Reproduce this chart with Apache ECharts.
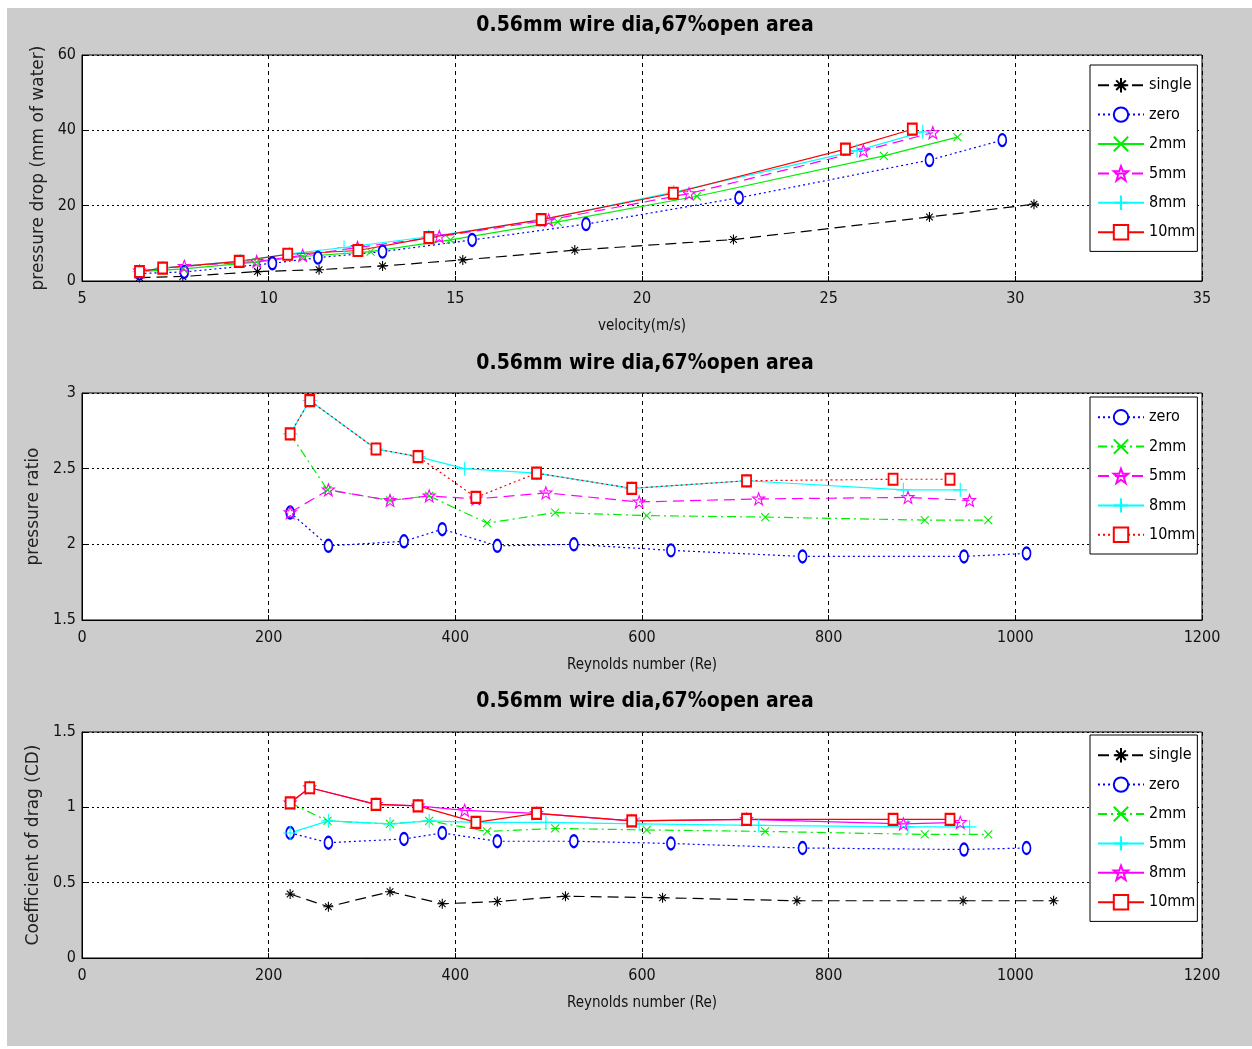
<!DOCTYPE html>
<html>
<head>
    <meta charset="UTF-8">
    <style type="text/css">
        body { margin: 0; background: #fff; }
        #chart { position: absolute; left: 7px; top: 8px; width: 1245px; height: 1038px; }
    </style>
</head>
<body>
    <div id="chart"></div>
    <script src="https://cdn.jsdelivr.net/npm/echarts@6/dist/echarts.min.js"></script>
    <script type="text/javascript">
        'use strict';
        var titleText = '0.56mm wire dia,67%open area';

        // top panel: pressure drop vs velocity
        var velSingle = [6.54, 7.7, 9.7, 11.35, 13.05, 15.2, 18.2, 22.45, 27.7, 30.5];
        var dpSingle = [0.9, 1.2, 2.5, 3.0, 4.0, 5.6, 8.2, 11.0, 17.0, 20.4];
        var velZero = [6.54, 7.74, 10.1, 11.32, 13.05, 15.45, 18.5, 22.6, 27.7, 29.65];
        var dpZero = [2.0, 2.4, 4.7, 6.2, 7.8, 10.9, 15.1, 22.1, 32.1, 37.4];
        var vel2mm = [6.54, 7.71, 9.68, 10.91, 12.73, 14.87, 17.74, 21.47, 26.48, 28.45];
        var dp2mm = [2.5, 3.2, 5.0, 6.5, 7.8, 10.9, 15.7, 22.5, 33.2, 38.2];
        var vel5mm = [6.54, 7.74, 9.68, 10.91, 12.38, 14.57, 17.5, 21.26, 25.93, 27.79];
        var dp5mm = [2.7, 3.9, 5.2, 6.8, 8.9, 11.8, 16.2, 23.2, 34.6, 39.4];
        var vel8mm = [6.54, 7.16, 9.24, 10.56, 12.02, 14.28, 17.27, 20.85, 25.76, 27.52];
        var dp8mm = [2.5, 3.5, 5.3, 7.2, 8.9, 11.75, 16.2, 23.6, 34.6, 39.6];
        var vel10mm = [6.54, 7.16, 9.21, 10.51, 12.39, 14.29, 17.3, 20.84, 25.45, 27.24];
        var dp10mm = [2.5, 3.4, 5.2, 7.1, 8.1, 11.5, 16.3, 23.3, 35.0, 40.3];

        // Reynolds numbers
        var reSingle = [223, 264, 330, 386, 445, 518, 622, 766, 944, 1041];
        var reZero = [223, 264, 345, 386, 445, 527, 631, 772, 945, 1012];
        var re2mm = [223, 263, 330, 372, 434, 507, 605, 732, 903, 971];
        var re5mm = [223, 264, 330, 372, 422, 497, 597, 725, 885, 951];
        var re8mm = [223, 244, 315, 360, 410, 487, 589, 712, 880, 941];
        var re10mm = [223, 244, 315, 360, 422, 487, 589, 712, 869, 930];

        // middle panel: pressure ratio
        var prZero = [2.21, 1.99, 2.02, 2.10, 1.99, 2.0, 1.96, 1.92, 1.92, 1.94];
        var pr2mm = [2.73, 2.36, 2.29, 2.32, 2.14, 2.21, 2.19, 2.18, 2.16, 2.16];
        var pr5mm = [2.21, 2.36, 2.29, 2.32, 2.30, 2.34, 2.28, 2.30, 2.31, 2.29];
        var pr8mm = [2.73, 2.95, 2.63, 2.58, 2.50, 2.47, 2.37, 2.42, 2.36, 2.36];
        var pr10mm = [2.73, 2.95, 2.63, 2.58, 2.31, 2.47, 2.37, 2.42, 2.43, 2.43];

        // bottom panel: drag coefficient
        var cdSingle = [0.425, 0.34, 0.44, 0.36, 0.375, 0.41, 0.40, 0.38, 0.38, 0.38];
        var cdZero = [0.83, 0.765, 0.79, 0.83, 0.775, 0.775, 0.76, 0.73, 0.72, 0.73];
        var cd2mm = [1.03, 0.91, 0.89, 0.91, 0.84, 0.86, 0.85, 0.84, 0.82, 0.82];
        var cd5mm = [0.83, 0.91, 0.89, 0.91, 0.90, 0.90, 0.89, 0.88, 0.87, 0.87];
        var cd8mm = [1.03, 1.13, 1.02, 1.01, 0.98, 0.96, 0.91, 0.92, 0.89, 0.90];
        var cd10mm = [1.03, 1.13, 1.02, 1.01, 0.90, 0.96, 0.91, 0.92, 0.92, 0.92];

        var narrow = '"DejaVu Sans Condensed", "Liberation Sans Narrow", "Liberation Sans", sans-serif';
        var plain = '"DejaVu Sans", "Liberation Sans", sans-serif';

        var sym = {
            star: 'path://M0,-6L0,6M-6,0L6,0M-4,-4L4,4M-4,4L4,-4',
            plus: 'path://M0,-7L0,7M-7,0L7,0',
            cross: 'path://M-4,-4L4,4M-4,4L4,-4',
            penta: 'path://M0,-6L1.5,-2L6,-2L2.4,1L3.8,5.5L0,2.8L-3.8,5.5L-2.4,1L-6,-2L-1.5,-2Z'
        };
        var dash = { solid: 'solid', dashed: [11, 6], dotted: [2, 3], dashdot: [9, 4, 2, 4] };

        function pairs(xs, ys) {
            return xs.map(function (x, i) { return [x, ys[i]]; });
        }

        function line(panel, name, color, type, symbol, size, xs, ys) {
            var open = symbol.indexOf('path://') === 0;
            return {
                type: 'line',
                name: panel + ':' + name,
                xAxisIndex: panel, yAxisIndex: panel,
                data: pairs(xs, ys),
                symbol: symbol,
                symbolSize: size,
                showAllSymbol: true,
                animation: false,
                lineStyle: { color: color, width: 1.2, type: dash[type] },
                itemStyle: open
                    ? { color: 'rgba(0,0,0,0)', borderColor: color, borderWidth: 1.1 }
                    : { color: color, borderColor: color, borderWidth: 1.1 }
            };
        }

        function grid(top, h) {
            return {
                left: 75, top: top, width: 1120, height: h,
                show: true, backgroundColor: '#fff', borderColor: '#000', borderWidth: 1
            };
        }

        function xAxis(idx, min, max, step, name) {
            return {
                type: 'value', gridIndex: idx, min: min, max: max, interval: step,
                name: name, nameLocation: 'middle', nameGap: 38,
                nameTextStyle: { fontFamily: narrow, fontSize: 15, color: '#111' },
                axisLine: { lineStyle: { color: '#000' } },
                axisTick: { inside: true, length: 5, lineStyle: { color: '#000' } },
                axisLabel: {
                    fontFamily: narrow, fontSize: 16, color: '#111', margin: 10,
                    formatter: function (v) { return String(v); }
                },
                splitLine: { show: true, lineStyle: { color: '#000', type: [4, 4] } }
            };
        }

        function yAxis(idx, min, max, step, name) {
            return {
                type: 'value', gridIndex: idx, min: min, max: max, interval: step,
                name: name, nameLocation: 'middle', nameGap: 25, nameRotate: 90,
                nameTextStyle: { fontFamily: plain, fontSize: 17, color: '#222' },
                axisLine: { show: true, lineStyle: { color: '#000' } },
                axisTick: { show: true, inside: true, length: 5, lineStyle: { color: '#000' } },
                axisLabel: { fontFamily: narrow, fontSize: 16, color: '#111', margin: 6 },
                splitLine: { show: true, lineStyle: { color: '#000', type: [2, 3] } }
            };
        }

        function legend(panel, top, names) {
            return {
                orient: 'vertical', left: 1083, top: top,
                data: names.map(function (n) { return panel + ':' + n; }),
                formatter: function (n) { return n.split(':')[1]; },
                backgroundColor: '#fff', borderColor: '#000', borderWidth: 1,
                padding: [12, 2, 11, 7], itemGap: 13, itemWidth: 46, itemHeight: 18,
                selectedMode: false,
                textStyle: { fontFamily: narrow, fontSize: 16, color: '#000' }
            };
        }

        function title(top) {
            return {
                text: titleText, left: 633, top: top, textAlign: 'center',
                textStyle: { fontFamily: narrow, fontSize: 21, fontWeight: 'bold', color: '#000' }
            };
        }

        var series = [
            line(0, 'single', '#000', 'dashed', sym.star, 10, velSingle, dpSingle),
            line(0, 'zero', '#0000ff', 'dotted', 'emptyCircle', [8, 12], velZero, dpZero),
            line(0, '2mm', '#00ee00', 'solid', sym.cross, 8, vel2mm, dp2mm),
            line(0, '5mm', '#ff00ff', 'dashed', sym.penta, 12, vel5mm, dp5mm),
            line(0, '8mm', '#00ffff', 'solid', sym.plus, 14, vel8mm, dp8mm),
            line(0, '10mm', '#ff0000', 'solid', 'emptyRect', [9, 11], vel10mm, dp10mm),

            line(1, 'zero', '#0000ff', 'dotted', 'emptyCircle', [8, 12], reZero, prZero),
            line(1, '2mm', '#00ee00', 'dashdot', sym.cross, 8, re2mm, pr2mm),
            line(1, '5mm', '#ff00ff', 'dashed', sym.penta, 12, re5mm, pr5mm),
            line(1, '8mm', '#00ffff', 'solid', sym.plus, 14, re8mm, pr8mm),
            line(1, '10mm', '#ff0000', 'dotted', 'emptyRect', [9, 11], re10mm, pr10mm),

            line(2, 'single', '#000', 'dashed', sym.star, 10, reSingle, cdSingle),
            line(2, 'zero', '#0000ff', 'dotted', 'emptyCircle', [8, 12], reZero, cdZero),
            line(2, '2mm', '#00ee00', 'dashdot', sym.cross, 8, re2mm, cd2mm),
            line(2, '5mm', '#00ffff', 'solid', sym.plus, 14, re5mm, cd5mm),
            line(2, '8mm', '#ff00ff', 'solid', sym.penta, 12, re8mm, cd8mm),
            line(2, '10mm', '#ff0000', 'solid', 'emptyRect', [9, 11], re10mm, cd10mm)
        ];

        var chart = echarts.init(document.getElementById('chart'), null, { renderer: 'canvas' });
        chart.setOption({
            backgroundColor: '#cccccc',
            animation: false,
            title: [title(2), title(340), title(678)],
            grid: [grid(47, 226), grid(385, 227), grid(724, 226)],
            xAxis: [
                xAxis(0, 5, 35, 5, 'velocity(m/s)'),
                xAxis(1, 0, 1200, 200, 'Reynolds number (Re)'),
                xAxis(2, 0, 1200, 200, 'Reynolds number (Re)')
            ],
            yAxis: [
                yAxis(0, 0, 60, 20, 'pressure drop (mm of water)'),
                yAxis(1, 1.5, 3, 0.5, 'pressure ratio'),
                yAxis(2, 0, 1.5, 0.5, 'Coefficient of drag (CD)')
            ],
            legend: [
                legend(0, 57, ['single', 'zero', '2mm', '5mm', '8mm', '10mm']),
                legend(1, 389, ['zero', '2mm', '5mm', '8mm', '10mm']),
                legend(2, 727, ['single', 'zero', '2mm', '5mm', '8mm', '10mm'])
            ],
            series: series
        });
    </script>
</body>
</html>
